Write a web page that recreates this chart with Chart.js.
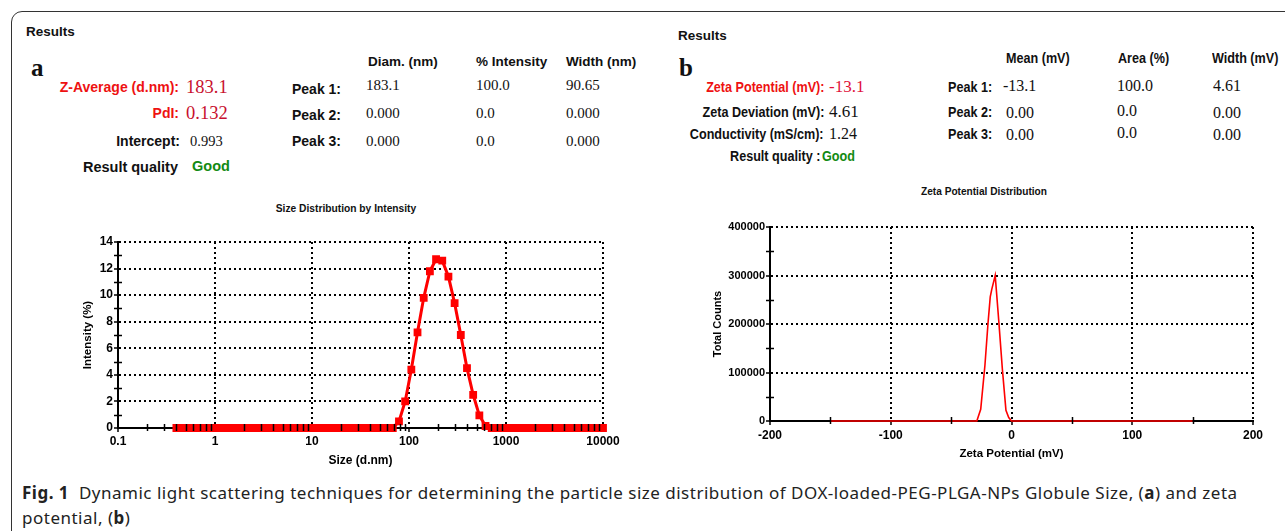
<!DOCTYPE html>
<html>
<head>
<meta charset="utf-8">
<script src="https://cdn.jsdelivr.net/npm/chart.js@4.4.0/dist/chart.umd.min.js"></script>
<style>
  body { margin: 0; width: 1285px; height: 531px; overflow: hidden; background: #fff; position: relative;
         font-family: "Liberation Sans", Arial, sans-serif; color: #111; }
  .frame { position: absolute; left: 11px; top: 11px; width: 1320px; height: 600px; border: 1px solid #333; border-radius: 11px; }
  .t { position: absolute; white-space: nowrap; font-weight: bold; font-size: 13.5px; line-height: 14px; }
  .lab { font-size: 14px; }
  .nw { font-size: 14px; transform: scaleX(0.9); transform-origin: left center; }
  .r.nw { transform-origin: right center; }
  .c { text-align: center; transform-origin: center center; }
  .v { font-family: "Liberation Serif", "Times New Roman", serif; font-weight: normal; font-size: 15px; line-height: 16px; }
  .big { font-size: 18.5px; line-height: 18px; }
  .red { color: #ee1111; }
  .dred { color: #c8102e; }
  .grn { color: #138a13; }
  .lt { font-family: "Liberation Serif", serif; font-weight: bold; font-size: 25px; line-height: 24px; }
  .ttl { font-size: 11px; line-height: 12px; }
  canvas { position: absolute; }
  .cap { position: absolute; left: 22px; top: 480px; font-family: "Noto Sans", sans-serif; font-size: 17px; line-height: 25px; color: #222; white-space: nowrap; letter-spacing: 0.5px; }
</style>
</head>
<body>
<div class="frame"></div>

<!-- panel a header -->
<div class="t" style="left:26px;top:25px">Results</div>
<div class="t lt" style="left:31px;top:56px">a</div>
<div class="t" style="left:368px;top:55px">Diam. (nm)</div>
<div class="t" style="left:476px;top:55px">% Intensity</div>
<div class="t" style="left:566px;top:55px">Width (nm)</div>

<div class="t r lab red" style="right:1106px;top:80px">Z-Average (d.nm):</div>
<div class="t v big dred" style="left:186px;top:78px">183.1</div>
<div class="t r lab red" style="right:1106px;top:106px">PdI:</div>
<div class="t v big dred" style="left:186px;top:104px">0.132</div>
<div class="t r lab" style="right:1105px;top:134px">Intercept:</div>
<div class="t v" style="left:190px;top:133px;font-size:14.5px">0.993</div>
<div class="t r lab" style="right:1107px;top:160px;font-size:14.5px">Result quality</div>
<div class="t grn" style="left:192px;top:159px;font-size:14.5px">Good</div>

<div class="t lab" style="left:292px;top:82px">Peak 1:</div>
<div class="t lab" style="left:292px;top:108px">Peak 2:</div>
<div class="t lab" style="left:292px;top:134px">Peak 3:</div>
<div class="t v" style="left:366px;top:77px">183.1</div>
<div class="t v" style="left:366px;top:105px">0.000</div>
<div class="t v" style="left:366px;top:133px">0.000</div>
<div class="t v" style="left:476px;top:77px">100.0</div>
<div class="t v" style="left:476px;top:105px">0.0</div>
<div class="t v" style="left:476px;top:133px">0.0</div>
<div class="t v" style="left:566px;top:77px">90.65</div>
<div class="t v" style="left:566px;top:105px">0.000</div>
<div class="t v" style="left:566px;top:133px">0.000</div>

<!-- panel b header -->
<div class="t" style="left:678px;top:29px">Results</div>
<div class="t lt" style="left:679px;top:56px">b</div>
<div class="t nw" style="left:1006px;top:51px">Mean (mV)</div>
<div class="t nw" style="left:1118px;top:51px">Area (%)</div>
<div class="t nw" style="left:1212px;top:51px">Width (mV)</div>

<div class="t r nw red" style="right:461px;top:80px">Zeta Potential (mV):</div>
<div class="t v big" style="left:829px;top:78px;font-size:17px;color:#e0103a">-13.1</div>
<div class="t r nw" style="right:461px;top:105px">Zeta Deviation (mV):</div>
<div class="t v big" style="left:829px;top:103px;font-size:17px">4.61</div>
<div class="t r nw" style="right:461px;top:127px">Conductivity (mS/cm):</div>
<div class="t v" style="left:829px;top:126px;font-size:16px">1.24</div>
<div class="t r nw" style="right:465px;top:149px">Result quality :</div>
<div class="t nw grn" style="left:822px;top:149px">Good</div>

<div class="t nw" style="left:948px;top:80px">Peak 1:</div>
<div class="t nw" style="left:948px;top:105px">Peak 2:</div>
<div class="t nw" style="left:948px;top:127px">Peak 3:</div>
<div class="t v" style="left:1003px;top:78px;font-size:16px">-13.1</div>
<div class="t v" style="left:1006px;top:105px;font-size:16px">0.00</div>
<div class="t v" style="left:1006px;top:127px;font-size:16px">0.00</div>
<div class="t v" style="left:1117px;top:78px;font-size:16px">100.0</div>
<div class="t v" style="left:1117px;top:103px;font-size:16px">0.0</div>
<div class="t v" style="left:1117px;top:125px;font-size:16px">0.0</div>
<div class="t v" style="left:1213px;top:78px;font-size:16px">4.61</div>
<div class="t v" style="left:1213px;top:105px;font-size:16px">0.00</div>
<div class="t v" style="left:1213px;top:127px;font-size:16px">0.00</div>

<!-- chart titles -->
<div class="t ttl c" style="left:246px;width:200px;top:202px;transform:scaleX(0.93)">Size Distribution by Intensity</div>
<div class="t ttl c" style="left:884px;width:200px;top:185px;transform:scaleX(0.92)">Zeta Potential Distribution</div>

<canvas id="size-chart" width="580" height="285" style="left:60px;top:190px"></canvas>
<canvas id="zeta-chart" width="595" height="285" style="left:690px;top:190px"></canvas>

<div class="cap"><b>Fig. 1</b>&nbsp; Dynamic light scattering techniques for determining the particle size distribution of DOX-loaded-PEG-PLGA-NPs Globule Size, (<b>a</b>) and zeta<br>potential, (<b>b</b>)</div>

<script>
// Size distribution (Zetasizer size classes, d.nm) and intensity (%)
const sizeNm = [0.4, 0.4632, 0.5365, 0.6213, 0.7195, 0.8332, 0.9649, 1.117, 1.294, 1.499,
    1.736, 2.01, 2.328, 2.696, 3.122, 3.615, 4.187, 4.849, 5.615, 6.503,
    7.531, 8.721, 10.1, 11.7, 13.54, 15.69, 18.17, 21.04, 24.36, 28.21,
    32.67, 37.84, 43.82, 50.75, 58.77, 68.06, 78.82, 91.28, 105.7, 122.4,
    141.8, 164.2, 190.1, 220.2, 255, 295.3, 342, 396.1, 458.7, 531.2,
    615.1, 712.4, 825, 955.4, 1106, 1281, 1484, 1718, 1990, 2305,
    2669, 3091, 3580, 4145, 4801, 5560, 6439, 7456, 8635, 10000];
const intensityPct = [0, 0, 0, 0, 0, 0, 0, 0, 0, 0,
    0, 0, 0, 0, 0, 0, 0, 0, 0, 0,
    0, 0, 0, 0, 0, 0, 0, 0, 0, 0,
    0, 0, 0, 0, 0, 0, 0.5, 2.0, 4.4, 7.2,
    9.8, 11.8, 12.7, 12.6, 11.4, 9.4, 7.0, 4.5, 2.5, 0.95,
    0.15, 0, 0, 0, 0, 0, 0, 0, 0, 0,
    0, 0, 0, 0, 0, 0, 0, 0, 0, 0];
const sizeTicks = [0.1, 1, 10, 100, 1000, 10000];
const intensityTicks = [0, 2, 4, 6, 8, 10, 12, 14];

// Zeta potential distribution
const zetaMv = [-150, -28.7, -25.5, -22, -19.5, -17.6, -16.3, -13.5, -10.5, -7.6, -4.6, -2.3, 0, 150];
const zetaCounts = [0, 0, 24000, 115000, 200000, 256000, 272000, 300000, 205000, 108000, 22000, 7000, 0, 0];
const zetaTicks = [-200, -100, 0, 100, 200];
const countTicks = [0, 100000, 200000, 300000, 400000];

// small tick marks between the labelled ones
const minorTicks = {
    id: 'minorTicks',
    afterDraw(chart, args, opts) {
        const { ctx, chartArea, scales: { x, y } } = chart;
        ctx.save();
        ctx.strokeStyle = '#000';
        ctx.lineWidth = 1.5;
        ctx.beginPath();
        (opts.x || []).forEach(v => {
            const px = Math.round(x.getPixelForValue(v)) + 0.5;
            ctx.moveTo(px, chartArea.bottom - 4);
            ctx.lineTo(px, chartArea.bottom + 3);
        });
        (opts.y || []).forEach(v => {
            const py = Math.round(y.getPixelForValue(v)) + 0.5;
            ctx.moveTo(chartArea.left - 4, py);
            ctx.lineTo(chartArea.left + 4, py);
        });
        ctx.stroke();
        ctx.restore();
    }
};

const tickFont = { family: 'Liberation Sans', weight: 'bold', size: 12 };
const gridOpts = { color: '#000', lineWidth: 2, tickLength: 4, tickColor: '#000', tickWidth: 1.5 };
const borderOpts = { color: '#000', width: 2, dash: [2, 3] };

function createSizeChart() {
    const logMinor = [];
    [0.1, 1, 10, 100, 1000].forEach(d => {
        for (let k = 2; k <= 9; k++) logMinor.push(d * k);
    });
    new Chart(document.getElementById('size-chart'), {
        type: 'line',
        data: {
            datasets: [{
                data: sizeNm.map((s, i) => ({ x: s, y: intensityPct[i] })),
                borderColor: '#ff0000',
                backgroundColor: '#ff0000',
                borderWidth: 3,
                pointStyle: 'rect',
                pointRadius: 3.4,
                tension: 0,
                clip: false
            }]
        },
        options: {
            responsive: false,
            animation: false,
            layout: { padding: { left: 0, right: 37, top: 52, bottom: 0 } },
            scales: {
                x: {
                    type: 'logarithmic', min: 0.1, max: 10000,
                    afterBuildTicks: s => { s.ticks = sizeTicks.map(v => ({ value: v })); },
                    afterFit: s => { s.height = 47; },
                    ticks: { font: tickFont, color: '#000', padding: 2, maxRotation: 0, callback: v => String(v) },
                    grid: gridOpts, border: borderOpts,
                    title: { display: true, text: 'Size (d.nm)', color: '#000', padding: { top: 0, bottom: 7 },
                             font: { family: 'Liberation Sans', weight: 'bold', size: 12 } }
                },
                y: {
                    min: 0, max: 14,
                    afterBuildTicks: s => { s.ticks = intensityTicks.map(v => ({ value: v })); },
                    afterFit: s => { s.width = 58; },
                    ticks: { font: tickFont, color: '#000', padding: 1 },
                    grid: gridOpts, border: borderOpts,
                    title: { display: true, text: 'Intensity (%)', color: '#000', padding: { top: 21, bottom: 0 },
                             font: { family: 'Liberation Sans', weight: 'bold', size: 11.5 } }
                }
            },
            plugins: {
                legend: { display: false },
                tooltip: { enabled: false },
                minorTicks: { x: logMinor, y: [1, 3, 5, 7, 9, 11, 13] }
            }
        },
        plugins: [minorTicks]
    });
}

function createZetaChart() {
    new Chart(document.getElementById('zeta-chart'), {
        type: 'line',
        data: {
            datasets: [{
                data: zetaMv.map((m, i) => ({ x: m, y: zetaCounts[i] })),
                borderColor: '#ff0000',
                borderWidth: 1.6,
                pointRadius: 0,
                tension: 0,
                clip: false
            }]
        },
        options: {
            responsive: false,
            animation: false,
            layout: { padding: { left: 0, right: 32, top: 37, bottom: 0 } },
            scales: {
                x: {
                    type: 'linear', min: -200, max: 200,
                    afterBuildTicks: s => { s.ticks = zetaTicks.map(v => ({ value: v })); },
                    afterFit: s => { s.height = 54; },
                    ticks: { font: { ...tickFont, size: 12 }, color: '#000', padding: 3, maxRotation: 0 },
                    grid: gridOpts, border: borderOpts,
                    title: { display: true, text: 'Zeta Potential (mV)', color: '#000', padding: { top: 0, bottom: 14 },
                             font: { family: 'Liberation Sans', weight: 'bold', size: 11.5 } }
                },
                y: {
                    min: 0, max: 400000,
                    afterBuildTicks: s => { s.ticks = countTicks.map(v => ({ value: v })); },
                    afterFit: s => { s.width = 80; },
                    ticks: { font: { ...tickFont, size: 11 }, color: '#000', padding: 1, callback: v => String(v) },
                    grid: gridOpts, border: borderOpts,
                    title: { display: true, text: 'Total Counts', color: '#000', padding: { top: 21, bottom: 0 },
                             font: { family: 'Liberation Sans', weight: 'bold', size: 11 } }
                }
            },
            plugins: {
                legend: { display: false },
                tooltip: { enabled: false },
                minorTicks: { x: [-150, -50, 50, 150], y: [50000, 150000, 250000, 350000] }
            }
        },
        plugins: [minorTicks]
    });
}

createSizeChart();
createZetaChart();
</script>
</body>
</html>
